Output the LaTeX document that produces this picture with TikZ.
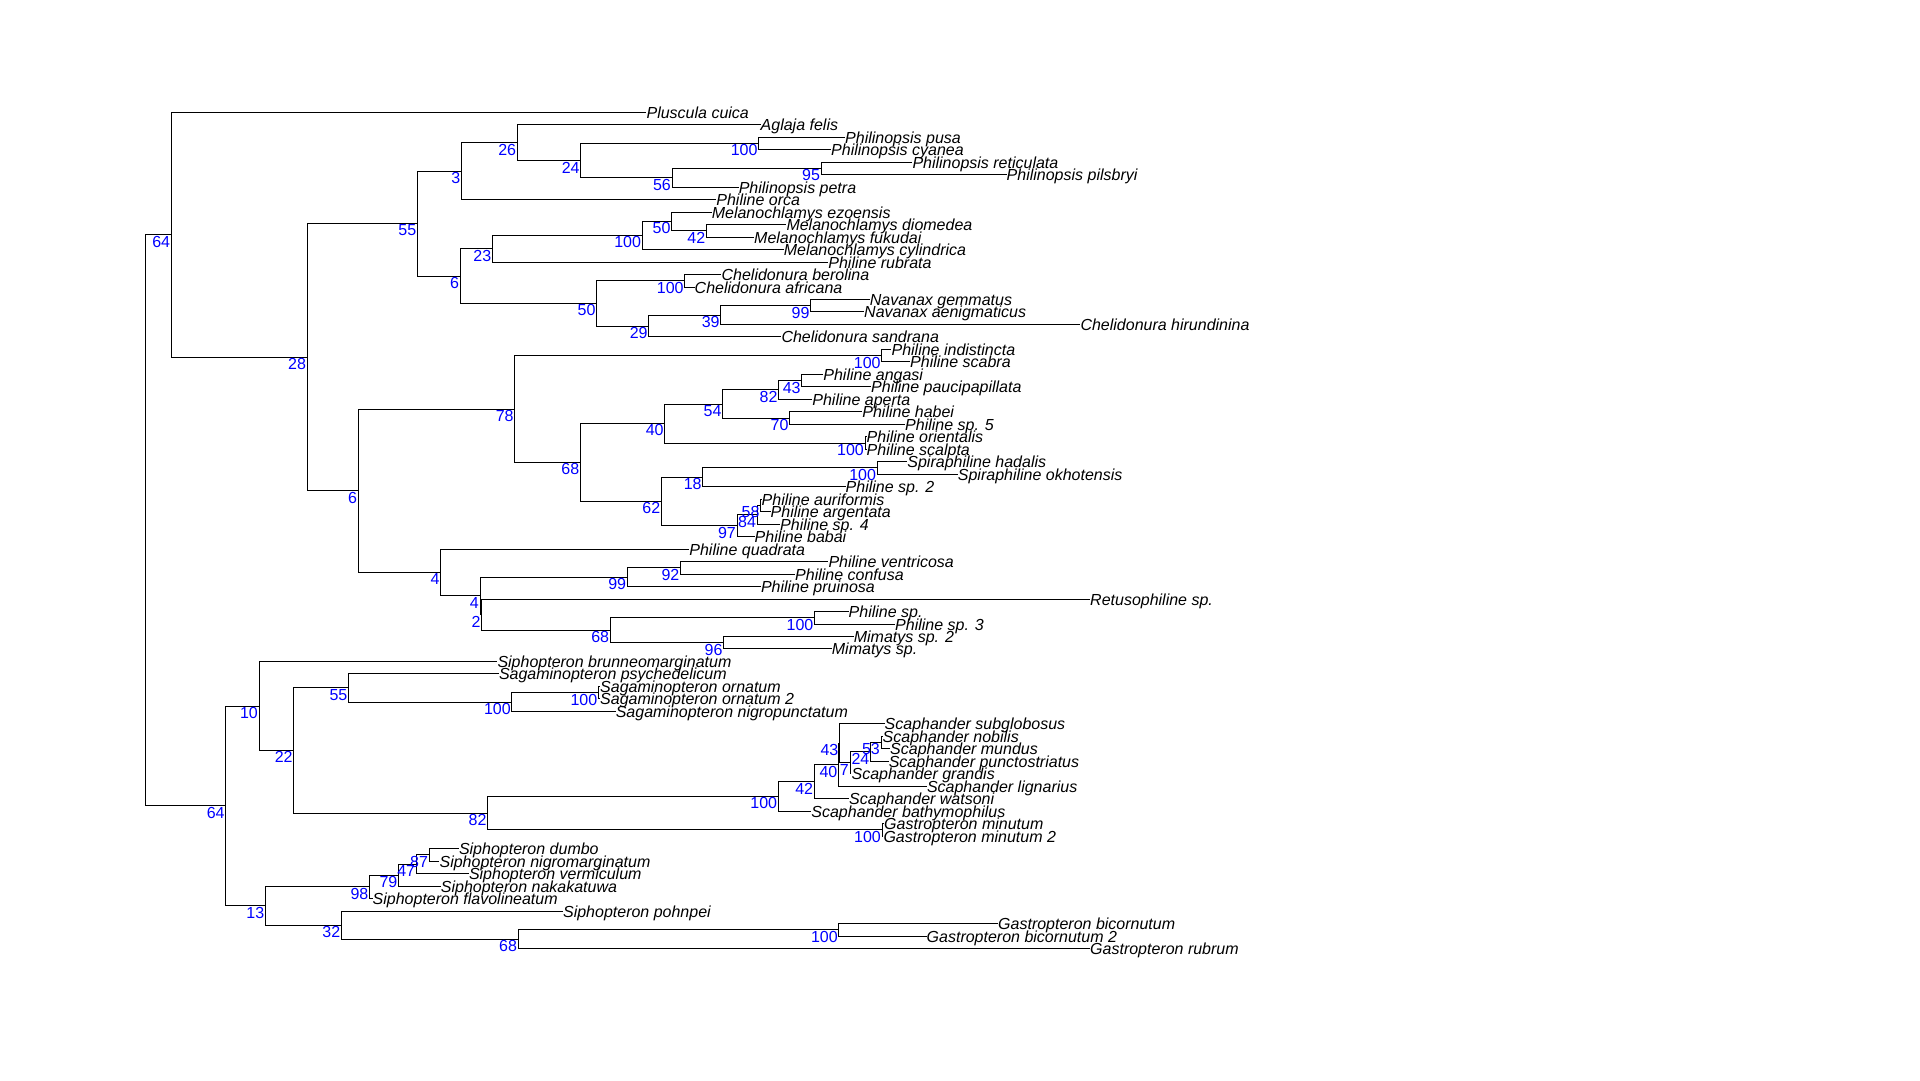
\documentclass[tikz,border=0pt]{standalone}
\usepackage{fontspec}
\setmainfont{Liberation Sans}
\begin{document}
\begin{tikzpicture}[x=1pt,y=-12.48pt,
  branch/.style={line width=1pt,black},
  taxon/.style={anchor=west,inner sep=0pt,text height=12pt,text depth=0pt,font=\fontsize{16}{16}\selectfont\itshape},
  supp/.style={anchor=north east,inner sep=1pt,text=blue,font=\fontsize{16}{16}\selectfont}]
\useasboundingbox (0,-8) rectangle (1920,78.54);

% Tips (row index = y)
\foreach \i/\x/\name in {
  1/646.4/Pluscula cuica, 2/760.5/Aglaja felis, 3/845.0/Philinopsis pusa,
  4/831.0/Philinopsis cyanea, 5/912.3/Philinopsis reticulata, 6/1006.5/Philinopsis pilsbryi,
  7/738.6/Philinopsis petra, 8/716.2/Philine orca, 9/711.6/Melanochlamys ezoensis,
  10/786.3/Melanochlamys diomedea, 11/754.0/Melanochlamys fukudai, 12/783.6/Melanochlamys cylindrica,
  13/828.2/Philine rubrata, 14/721.4/Chelidonura berolina, 15/694.5/Chelidonura africana,
  16/869.6/Navanax gemmatus, 17/864.0/Navanax aenigmaticus, 18/1080.3/Chelidonura hirundinina,
  19/781.3/Chelidonura sandrana, 20/891.4/Philine indistincta, 21/910.0/Philine scabra,
  22/823.2/Philine angasi, 23/871.0/Philine paucipapillata, 24/812.2/Philine aperta,
  25/862.2/Philine habei, 26/905.0/Philine sp. 5, 27/866.5/Philine orientalis,
  28/866.5/Philine scalpta, 29/907.2/Spiraphiline hadalis, 30/957.7/Spiraphiline okhotensis,
  31/845.5/Philine sp. 2, 32/761.5/Philine auriformis, 33/770.5/Philine argentata,
  34/780.0/Philine sp. 4, 35/754.5/Philine babai, 36/689.2/Philine quadrata,
  37/828.3/Philine ventricosa, 38/795.0/Philine confusa, 39/760.8/Philine pruinosa,
  40/1090.0/Retusophiline sp., 41/848.5/Philine sp., 42/895.0/Philine sp. 3,
  43/853.6/Mimatys sp. 2, 44/831.7/Mimatys sp., 45/497.3/Siphopteron brunneomarginatum,
  46/498.8/Sagaminopteron psychedelicum, 47/600.0/Sagaminopteron ornatum, 48/600.0/Sagaminopteron ornatum 2,
  49/615.6/Sagaminopteron nigropunctatum, 50/884.5/Scaphander subglobosus, 51/882.5/Scaphander nobilis,
  52/890.0/Scaphander mundus, 53/888.6/Scaphander punctostriatus, 54/851.4/Scaphander grandis,
  55/926.8/Scaphander lignarius, 56/849.0/Scaphander watsoni, 57/811.2/Scaphander bathymophilus,
  58/884.0/Gastropteron minutum, 59/883.3/Gastropteron minutum 2, 60/458.8/Siphopteron dumbo,
  61/439.4/Siphopteron nigromarginatum, 62/468.8/Siphopteron vermiculum, 63/440.7/Siphopteron nakakatuwa,
  64/372.5/Siphopteron flavolineatum, 65/562.9/Siphopteron pohnpei, 66/998.0/Gastropteron bicornutum,
  67/926.5/Gastropteron bicornutum 2, 68/1090.0/Gastropteron rubrum}
  \node[taxon] (t\i) at (\x,\i) {\name};

% Internal nodes
\foreach \n/\x/\y in {
  root/145.3/33.697, nA/171.3/10.8125, n28/307.2/20.625, n55/417.4/9.921875,
  n3/461.4/5.71875, n26/517.3/3.4375, n24/580.8/4.875, n100a/758.7/3.5,
  n56/672.0/6.25, n95/821.2/5.5, n6b/460.3/14.125, n23/492.4/11.9375,
  n100b/642.2/10.875, n50b/671.6/9.75, n42a/706.4/10.5, n50/596.7/16.3125,
  n100c/684.8/14.5, n29/648.8/18.125, n39/720.8/17.25, n99/810.7/16.5,
  n6a/358.2/31.328125, n78/514.8/24.78125, n100d/881.8/20.5, n68a/580.4/29.0625,
  n40a/664.8/25.9375, n54/722.6/24.375, n82/778.7/23.25, n43/801.8/22.5,
  n70/789.6/25.5, n100e/865.0/27.5, n62/661.4/32.1875, n18/702.8/30.25,
  n100f/877.2/29.5, n97/737.0/34.125, n84/757.2/33.25, n58/760.7/32.5,
  n4a/440.6/37.875, n4b/480.0/39.75, n99b/627.3/38.25, n92/680.5/37.5,
  n2/481.7/41.25, n68b/610.3/42.5, n100g/814.5/41.5, n96/723.6/43.5,
  nB/225.8/56.58252, n10/259.0/48.57129, n22/293.8/52.14258, n55b/348.5/47.125,
  n100h/511.9/48.25, n100i/598.4/47.5, n82b/487.6/57.16016, n100j/778.3/55.82031,
  n42b/814.3/54.64063, n40b/838.5/53.28125, n43b/839.5/51.5625, n7/850.0/53.125,
  n24b/870.5/52.25, n53/881.0/51.5, n100k/882.0/58.5, n13/265.4/64.59375,
  n98/369.5/63.0625, n79/398.5/62.125, n47/416.3/61.25, n87/429.2/60.5,
  n32/341.4/66.125, n68c/518.2/67.25, n100l/838.9/66.5}
  \coordinate (\n) at (\x,\y);

% Branches, parent to child
\foreach \p/\c in {
  root/nA, root/nB, nA/t1, nA/n28, n28/n55, n28/n6a, n55/n3, n55/n6b,
  n3/n26, n3/t8, n26/t2, n26/n24, n24/n100a, n24/n56, n100a/t3, n100a/t4,
  n56/n95, n56/t7, n95/t5, n95/t6, n6b/n23, n6b/n50, n23/n100b, n23/t13,
  n100b/n50b, n100b/t12, n50b/t9, n50b/n42a, n42a/t10, n42a/t11,
  n50/n100c, n50/n29, n100c/t14, n100c/t15, n29/n39, n29/t19, n39/n99, n39/t18,
  n99/t16, n99/t17, n6a/n78, n6a/n4a, n78/n100d, n78/n68a, n100d/t20, n100d/t21,
  n68a/n40a, n68a/n62, n40a/n54, n40a/n100e, n54/n82, n54/n70, n82/n43, n82/t24,
  n43/t22, n43/t23, n70/t25, n70/t26, n100e/t27, n100e/t28, n62/n18, n62/n97,
  n18/n100f, n18/t31, n100f/t29, n100f/t30, n97/n84, n97/t35, n84/n58, n84/t34,
  n58/t32, n58/t33, n4a/t36, n4a/n4b, n4b/n99b, n4b/n2, n99b/n92, n99b/t39,
  n92/t37, n92/t38, n2/t40, n2/n68b, n68b/n100g, n68b/n96, n100g/t41, n100g/t42,
  n96/t43, n96/t44, nB/n10, nB/n13, n10/t45, n10/n22, n22/n55b, n22/n82b,
  n55b/t46, n55b/n100h, n100h/n100i, n100h/t49, n100i/t47, n100i/t48,
  n82b/n100j, n82b/n100k, n100j/n42b, n100j/t57, n42b/n40b, n42b/t56,
  n40b/n43b, n40b/t55, n43b/t50, n43b/n7, n7/n24b, n7/t54, n24b/n53, n24b/t53,
  n53/t51, n53/t52, n100k/t58, n100k/t59, n13/n98, n13/n32, n98/n79, n98/t64,
  n79/n47, n79/t63, n47/n87, n47/t62, n87/t60, n87/t61, n32/t65, n32/n68c,
  n68c/n100l, n68c/t68, n100l/t66, n100l/t67}
  \draw[branch] (\p) |- (\c);

% Support values
\foreach \n/\v in {
  nA/64, n28/28, n55/55, n3/3, n26/26, n24/24, n100a/100, n56/56, n95/95,
  n6b/6, n23/23, n100b/100, n50b/50, n42a/42, n50/50, n100c/100, n29/29, n39/39, n99/99,
  n6a/6, n78/78, n100d/100, n68a/68, n40a/40, n54/54, n82/82, n43/43, n70/70, n100e/100,
  n62/62, n18/18, n100f/100, n97/97, n84/84, n58/58, n4a/4, n4b/4, n99b/99, n92/92,
  n2/2, n68b/68, n100g/100, n96/96, nB/64, n10/10, n22/22, n55b/55, n100h/100, n100i/100,
  n82b/82, n100j/100, n42b/42, n40b/40, n43b/43, n7/7, n24b/24, n53/53, n100k/100,
  n13/13, n98/98, n79/79, n47/47, n87/87, n32/32, n68c/68, n100l/100}
  \node[supp] (l\n) at (\n) {\v};
\end{tikzpicture}
\end{document}
